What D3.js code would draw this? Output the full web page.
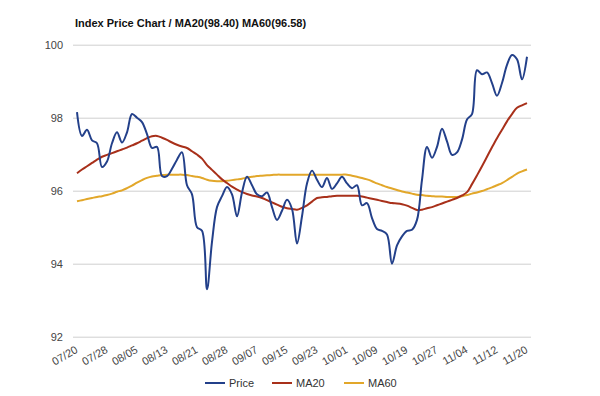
<!DOCTYPE html>
<html>
<head>
<meta charset="utf-8">
<script src="https://cdn.jsdelivr.net/npm/d3@7"></script>
<style>
  body { margin: 0; background: #fff; }
  svg { display: block; font-family: "Liberation Sans", Arial, sans-serif; }
</style>
</head>
<body>
<svg></svg>
<script>
var tickLabels = ["07/20", "07/28", "08/05", "08/13", "08/21", "08/28", "09/07", "09/15",
    "09/23", "10/01", "10/09", "10/19", "10/27", "11/04", "11/12", "11/20"];
var yTicks = [92, 94, 96, 98, 100];

var price = [98.15, 97.5, 97.67, 97.38, 97.3, 96.65, 96.8, 97.3, 97.6, 97.32,
    97.6, 98.1, 98.0, 97.88, 97.55, 97.17, 97.2, 96.4, 96.4, 96.6,
    96.85, 97.05, 96.15, 95.9, 95.0, 94.9, 93.3, 94.6, 95.55, 95.85,
    96.1, 95.9, 95.3, 95.95, 96.38, 96.15, 95.9, 95.85, 95.95, 95.55,
    95.2, 95.45, 95.75, 95.5, 94.55, 95.3, 96.2, 96.55, 96.3, 96.1,
    96.35, 96.05, 96.2, 96.38, 96.2, 96.07, 96.15, 95.6, 95.66, 95.25,
    94.95, 94.9, 94.8, 94.0, 94.5, 94.75, 94.9, 94.93, 95.2, 96.3,
    97.2, 96.9, 97.2, 97.7, 97.35, 96.98, 97.05, 97.4, 97.95, 98.1,
    99.3, 99.19, 99.24, 98.95, 98.6, 98.95, 99.45, 99.72, 99.6, 99.05,
    99.67];

var ma20 = [96.48, 96.58, 96.67, 96.76, 96.85, 96.93, 96.98, 97.03, 97.08, 97.13,
    97.18, 97.24, 97.30, 97.37, 97.44, 97.49, 97.50, 97.45, 97.39, 97.32,
    97.26, 97.21, 97.17, 97.08, 96.99, 96.88, 96.70, 96.57, 96.44, 96.31,
    96.21, 96.11, 96.03, 95.96, 95.91, 95.87, 95.84, 95.80, 95.74, 95.68,
    95.62, 95.56, 95.52, 95.50, 95.48, 95.53, 95.60, 95.70, 95.80, 95.82,
    95.83, 95.85, 95.86, 95.86, 95.86, 95.86, 95.86, 95.84, 95.81, 95.78,
    95.75, 95.72, 95.69, 95.66, 95.65, 95.63, 95.59, 95.53, 95.47, 95.48,
    95.52, 95.55, 95.60, 95.65, 95.70, 95.75, 95.80, 95.87, 95.96, 96.18,
    96.42, 96.67, 96.93, 97.19, 97.44, 97.67, 97.90, 98.10, 98.27, 98.34,
    98.40];

var ma60 = [95.71, 95.74, 95.77, 95.80, 95.83, 95.85, 95.88, 95.92, 95.97, 96.01,
    96.07, 96.14, 96.22, 96.29, 96.35, 96.39, 96.41, 96.43, 96.44, 96.44,
    96.44, 96.44, 96.43, 96.40, 96.38, 96.35, 96.30, 96.27, 96.26, 96.26,
    96.27, 96.29, 96.31, 96.33, 96.36, 96.38, 96.40, 96.41, 96.42, 96.43,
    96.44, 96.44, 96.44, 96.44, 96.44, 96.44, 96.44, 96.44, 96.44, 96.44,
    96.44, 96.44, 96.44, 96.44, 96.44, 96.41, 96.38, 96.35, 96.31, 96.26,
    96.20, 96.15, 96.10, 96.06, 96.02, 95.98, 95.95, 95.92, 95.89, 95.88,
    95.86, 95.85, 95.84, 95.84, 95.83, 95.83, 95.83, 95.85, 95.88, 95.92,
    95.95, 95.99, 96.04, 96.09, 96.15, 96.21, 96.29, 96.38, 96.47, 96.53,
    96.58];

var series = [
    {name: "Price", values: price, color: "#23408a"},
    {name: "MA20", values: ma20, color: "#a8301a"},
    {name: "MA60", values: ma60, color: "#e2a72a"}
];

var viewWidth = 600;
var viewHeight = 396;
var stepPerLabel = 6;

var svg = d3.select("svg")
    .attr("width", viewWidth)
    .attr("height", viewHeight);

var x = d3.scaleLinear()
    .domain([0, price.length - 1])
    .range([77, 527]);

var y = d3.scaleLinear()
    .domain([92, 100])
    .range([336.7, 44.7]);

// title
svg.append("text")
    .attr("x", 75)
    .attr("y", 27)
    .style("font-size", "11px")
    .style("font-weight", "bold")
    .style("fill", "#111")
    .text("Index Price Chart / MA20(98.40) MA60(96.58)");

// horizontal grid + y labels
var yAxis = svg.append("g")
    .attr("transform", "translate(73,0)")
    .call(d3.axisLeft(y).tickValues(yTicks).tickSize(-458).tickPadding(10));
yAxis.select(".domain").remove();
yAxis.selectAll("line").attr("stroke", "#cfcfcf");
yAxis.selectAll("text")
    .style("font-size", "11px")
    .style("fill", "#444")
    .style("font-family", "Liberation Sans, Arial, sans-serif");

// x labels, rotated
var xAxis = svg.append("g")
    .attr("transform", "translate(0,341)")
    .call(d3.axisBottom(x)
        .tickValues(d3.range(0, price.length, stepPerLabel))
        .tickSize(0)
        .tickFormat(function(d) { return tickLabels[d / stepPerLabel]; }));
xAxis.select(".domain").remove();
xAxis.selectAll("text")
    .attr("text-anchor", "end")
    .attr("y", 0)
    .attr("dy", 0)
    .attr("transform", "translate(1,11) rotate(-30)")
    .style("font-size", "11px")
    .style("fill", "#444")
    .style("font-family", "Liberation Sans, Arial, sans-serif");

var line = d3.line()
    .x(function(d, i) { return x(i); })
    .y(function(d) { return y(d); })
    .curve(d3.curveCatmullRom.alpha(0.5));

svg.selectAll("path.series")
    .data(series.slice().reverse())
    .enter()
    .append("path")
    .attr("class", "series")
    .attr("fill", "none")
    .attr("stroke", function(d) { return d.color; })
    .attr("stroke-width", 2)
    .attr("stroke-linejoin", "round")
    .attr("d", function(d) { return line(d.values); });

// legend
var legendX = [205, 272, 344];
var legend = svg.selectAll("g.legend")
    .data(series)
    .enter()
    .append("g")
    .attr("class", "legend")
    .attr("transform", function(d, i) { return "translate(" + legendX[i] + ",383)"; });

legend.append("line")
    .attr("x1", 0).attr("x2", 20)
    .attr("stroke", function(d) { return d.color; })
    .attr("stroke-width", 2);

legend.append("text")
    .attr("x", 24)
    .attr("dy", "0.35em")
    .style("font-size", "11px")
    .style("fill", "#333")
    .text(function(d) { return d.name; });
</script>
</body>
</html>
